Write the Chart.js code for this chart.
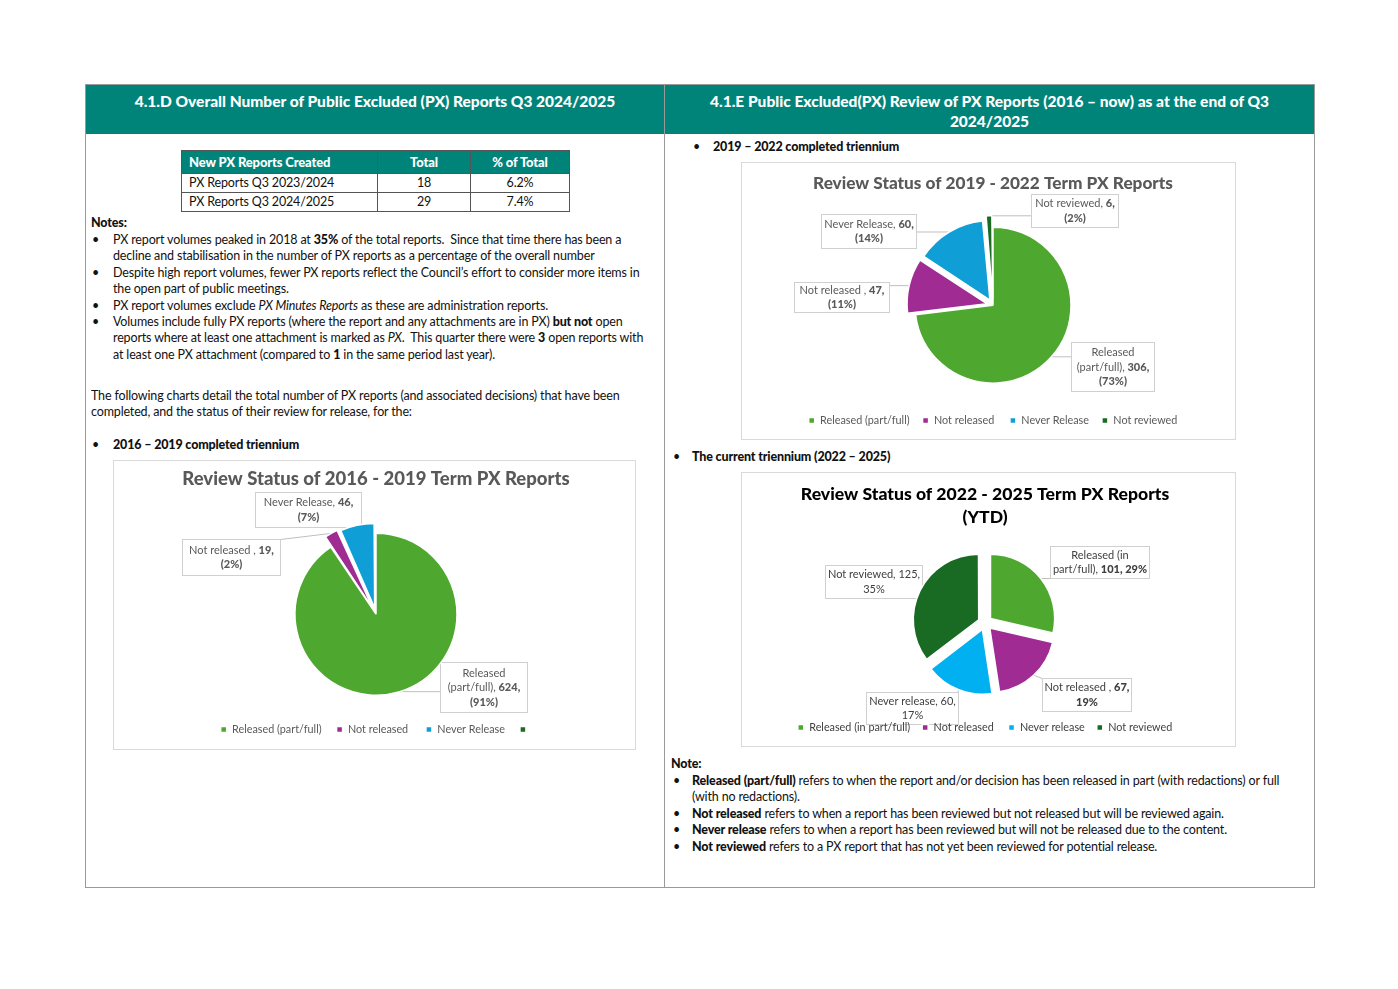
<!DOCTYPE html>
<html>
<head>
<meta charset="utf-8">
<title>PX Reports Q3 2024/2025</title>
<script src="https://cdn.jsdelivr.net/npm/chart.js@4.4.1/dist/chart.umd.min.js"></script>
<style>
  body { margin: 0; background: #fff; font-family: Lato, "Noto Sans", sans-serif; color: #111; }
  .page { position: relative; width: 1398px; height: 989px; overflow: hidden; }
  .frame { position: absolute; left: 85px; top: 84px; width: 1230px; height: 804px; box-sizing: border-box; border: 1px solid #9a9a9a; }
  .divider { position: absolute; left: 664px; top: 84px; width: 1px; height: 804px; background: #9a9a9a; }
  .head { position: absolute; top: 85px; height: 49px; background: #00847a; color: #fff; font-weight: 900;
          font-size: 15.5px; line-height: 20px; text-align: center; box-sizing: border-box; padding-top: 6px; }
  .txt { position: absolute; font-size: 12.5px; line-height: 16.4px; white-space: nowrap; letter-spacing: -0.15px; }
  .txt b { font-weight: 900; }
  .li { position: relative; padding-left: 22px; }
  .li::before { content: "\2022"; position: absolute; left: 1px; }
  .chartbox { position: absolute; box-shadow: inset 0 0 0 1px #d9d9d9; }
  #pxTable { position: absolute; left: 181px; top: 150px; border-collapse: collapse; font-size: 12.5px; letter-spacing: -0.15px; }
  #pxTable th { background: #00847a; color: #fff; font-weight: 900; font-size: 13px; height: 22px; padding: 0 7px; border: 1px solid #555; }
  #pxTable td { height: 18px; padding: 0 7px; border: 1px solid #555; line-height: 16px; }
  #pxTable .c { text-align: center; }
</style>
</head>
<body>
<div class="page">
  <div class="frame"></div>
  <div class="head" style="left:86px;width:578px;">4.1.D Overall Number of Public Excluded (PX) Reports Q3 2024/2025</div>
  <div class="head" style="left:665px;width:649px;">4.1.E Public Excluded(PX) Review of PX Reports (2016 &ndash; now) as at the end of Q3<br>2024/2025</div>
  <div class="divider"></div>

  <table id="pxTable">
    <thead>
      <tr><th style="width:181px;text-align:left;">New PX Reports Created</th><th style="width:78px;">Total</th><th style="width:84px;">% of Total</th></tr>
    </thead>
    <tbody></tbody>
  </table>

  <div class="txt" style="left:91px;top:215px;"><b>Notes:</b></div>
  <div class="txt" style="left:91px;top:232px;">
    <div class="li">PX report volumes peaked in 2018 at <b>35%</b> of the total reports.&nbsp; Since that time there has been a<br>decline and stabilisation in the number of PX reports as a percentage of the overall number</div>
    <div class="li">Despite high report volumes, fewer PX reports reflect the Council&rsquo;s effort to consider more items in<br>the open part of public meetings.</div>
    <div class="li">PX report volumes exclude <i>PX Minutes Reports</i> as these are administration reports.</div>
    <div class="li">Volumes include fully PX reports (where the report and any attachments are in PX) <b>but not</b> open<br>reports where at least one attachment is marked as <i>PX</i>.&nbsp; This quarter there were <b>3</b> open reports with<br>at least one PX attachment (compared to <b>1</b> in the same period last year).</div>
  </div>
  <div class="txt" style="left:91px;top:388px;">The following charts detail the total number of PX reports (and associated decisions) that have been<br>completed, and the status of their review for release, for the:</div>
  <div class="txt" style="left:91px;top:437px;"><div class="li"><b>2016 &ndash; 2019 completed triennium</b></div></div>

  <div class="txt" style="left:692px;top:139px;"><div class="li" style="padding-left:21px;"><b>2019 &ndash; 2022 completed triennium</b></div></div>
  <div class="txt" style="left:672px;top:449px;"><div class="li" style="padding-left:20px;"><b>The current triennium (2022 &ndash; 2025)</b></div></div>
  <div class="txt" style="left:671px;top:756px;"><b>Note:</b></div>
  <div class="txt" style="left:672px;top:773px;">
    <div class="li" style="padding-left:20px;"><b>Released (part/full)</b> refers to when the report and/or decision has been released in part (with redactions) or full<br>(with no redactions).</div>
    <div class="li" style="padding-left:20px;"><b>Not released</b> refers to when a report has been reviewed but not released but will be reviewed again.</div>
    <div class="li" style="padding-left:20px;"><b>Never release</b> refers to when a report has been reviewed but will not be released due to the content.</div>
    <div class="li" style="padding-left:20px;"><b>Not reviewed</b> refers to a PX report that has not yet been reviewed for potential release.</div>
  </div>

  <div class="chartbox" style="left:113px;top:460px;width:523px;height:290px;"><canvas id="chart1619"></canvas></div>
  <div class="chartbox" style="left:741px;top:162px;width:495px;height:278px;"><canvas id="chart1922"></canvas></div>
  <div class="chartbox" style="left:741px;top:472px;width:495px;height:275px;"><canvas id="chart2225"></canvas></div>
</div>

<script>
// table data
const tableRows = ['PX Reports Q3 2023/2024', 'PX Reports Q3 2024/2025'];
const tableTotals = [18, 29];
const tablePct = [6.2, 7.4];

// 2016 - 2019 term
const labels1619 = ['Released (part/full)', 'Not released ', 'Never Release', ''];
const values1619 = [624, 19, 46, 0];
const pct1619 = [91, 2, 7, 0];

// 2019 - 2022 term
const labels1922 = ['Released (part/full)', 'Not released ', 'Never Release', 'Not reviewed'];
const values1922 = [306, 47, 60, 6];
const pct1922 = [73, 11, 14, 2];

// 2022 - 2025 term (YTD)
const labels2225 = ['Released (in part/full)', 'Not released ', 'Never release', 'Not reviewed'];
const values2225 = [101, 67, 60, 125];
const pct2225 = [29, 19, 17, 35];

const green = '#4ea72e', purple = '#a02b93', blue = '#0f9ed5', darkGreen = '#196b24', cyan = '#00b0f0';

let tableBody = document.querySelector('#pxTable tbody');
tableRows.forEach((name, i) => {
  let row = document.createElement('tr');
  row.innerHTML = `<td>${name}</td><td class="c">${tableTotals[i]}</td><td class="c">${tablePct[i].toFixed(1)}%</td>`;
  tableBody.appendChild(row);
});

// data label boxes with leader lines, like the Excel callouts
// drawn before the legend/title so the legend text sits on top, as in Excel
const calloutPlugin = {
  id: 'callouts',
  beforeDraw(chart, args, opts) {
    const ctx = chart.ctx;
    const meta = chart.getDatasetMeta(0);
    const ds = chart.data.datasets[0];
    const size = opts.size || 11;
    const lh = opts.lineHeight || 14.5;
    (opts.items || []).forEach(item => {
      const arc = meta.data[item.index];
      const p = arc.getProps(['x', 'y', 'startAngle', 'endAngle', 'outerRadius'], true);
      const mid = (p.startAngle + p.endAngle) / 2;
      const off = (arc.options.offset || 0) / 4;
      const fix = 1 - Math.sin(Math.min(Math.PI, p.endAngle - p.startAngle));
      const r = p.outerRadius + off + off * fix;
      const ax = p.x + Math.cos(mid) * r;
      const ay = p.y + Math.sin(mid) * r;
      const bx = Math.round(p.x + item.dx) + 0.5;
      const by = Math.round(p.y + item.dy) + 0.5;
      const px = Math.min(Math.max(ax, bx), bx + item.w);
      const py = Math.min(Math.max(ay, by), by + item.h);

      ctx.save();
      ctx.strokeStyle = '#bfbfbf';
      ctx.lineWidth = 1;
      ctx.beginPath();
      ctx.moveTo(ax, ay);
      ctx.lineTo(px, py);
      ctx.stroke();
      ctx.fillStyle = '#fff';
      ctx.fillRect(bx, by, item.w, item.h);
      ctx.strokeStyle = '#d0d0d0';
      ctx.strokeRect(bx, by, item.w, item.h);

      const text = item.fmt.replace('{v}', ds.data[item.index]).replace('{p}', ds.pct[item.index]);
      const lines = text.split('\n');
      ctx.fillStyle = opts.color || '#595959';
      ctx.textBaseline = 'middle';
      ctx.textAlign = 'left';
      let y = by + (item.h - lines.length * lh) / 2 + lh / 2;
      lines.forEach(line => {
        const segs = line.split('*').map((t, k) => ({t, bold: k % 2 === 1}));
        let total = 0;
        segs.forEach(s => {
          ctx.font = `${s.bold ? '900 ' : ''}${size}px Lato`;
          s.w = ctx.measureText(s.t).width;
          total += s.w;
        });
        let x = bx + item.w / 2 - total / 2;
        segs.forEach(s => {
          ctx.font = `${s.bold ? '900 ' : ''}${size}px Lato`;
          ctx.fillText(s.t, x, y);
          x += s.w;
        });
        y += lh;
      });
      ctx.restore();
    });
  }
};

function makePie(id, labels, values, pct, colors, offsets, cfg) {
  return new Chart(document.getElementById(id), {
    type: 'pie',
    data: {
      labels: labels,
      datasets: [{
        data: values,
        pct: pct,
        backgroundColor: colors,
        borderColor: '#fff',
        borderWidth: 1.5,
        offset: offsets,
        radius: cfg.radius
      }]
    },
    options: {
      responsive: true,
      maintainAspectRatio: false,
      animation: false,
      events: [],
      layout: { padding: cfg.padding },
      plugins: {
        title: {
          display: true,
          text: cfg.title,
          color: cfg.titleColor,
          font: { family: 'Lato', size: cfg.titleSize, weight: '900', lineHeight: cfg.titleLH },
          padding: cfg.titlePad
        },
        legend: {
          position: 'bottom',
          labels: {
            usePointStyle: true,
            pointStyle: 'rect',
            boxWidth: 6,
            boxHeight: 6,
            padding: cfg.legendGap,
            color: cfg.legendColor,
            font: { family: 'Lato', size: 10.8 }
          }
        },
        tooltip: { enabled: false },
        callouts: { items: cfg.callouts, color: cfg.labelColor }
      }
    },
    plugins: [calloutPlugin]
  });
}

makePie('chart1619', labels1619, values1619, pct1619, [green, purple, blue, darkGreen], [0, 25, 25, 0], {
  radius: 81,
  padding: { left: 3, bottom: 5 },
  title: 'Review Status of 2016 - 2019 Term PX Reports',
  titleColor: '#595959', titleSize: 18.5, titleLH: 1.2, titlePad: { top: 8, bottom: 29 },
  legendColor: '#595959', labelColor: '#595959', legendGap: 15,
  callouts: [
    { index: 2, fmt: 'Never Release, *{v},*\n*({p}%)*', dx: -121, dy: -122, w: 106, h: 35 },
    { index: 1, fmt: 'Not released , *{v},*\n*({p}%)*', dx: -194, dy: -75, w: 98, h: 36 },
    { index: 0, fmt: 'Released\n(part/full), *{v},*\n*({p}%)*', dx: 64, dy: 48, w: 87, h: 50 }
  ]
});

makePie('chart1922', labels1922, values1922, pct1922, [green, purple, blue, darkGreen], [0, 24, 24, 24], {
  radius: 78,
  padding: { left: 9, bottom: 4 },
  title: 'Review Status of 2019 - 2022 Term PX Reports',
  titleColor: '#595959', titleSize: 17.2, titleLH: 1.2, titlePad: { top: 11.5, bottom: 14 },
  legendColor: '#595959', labelColor: '#595959', legendGap: 13,
  callouts: [
    { index: 3, fmt: 'Not reviewed, *{v},*\n*({p}%)*', dx: 38, dy: -111, w: 87, h: 33 },
    { index: 2, fmt: 'Never Release, *{v},*\n*({p}%)*', dx: -172, dy: -91, w: 95, h: 34 },
    { index: 1, fmt: 'Not released , *{v},*\n*({p}%)*', dx: -199, dy: -23, w: 95, h: 30 },
    { index: 0, fmt: 'Released\n(part/full), *{v},*\n*({p}%)*', dx: 78, dy: 37, w: 83, h: 49 }
  ]
});

makePie('chart2225', labels2225, values2225, pct2225, [green, purple, cyan, darkGreen], [28, 28, 28, 28], {
  radius: 64,
  padding: { right: 7, bottom: 4 },
  title: ['Review Status of 2022 - 2025 Term PX Reports', '(YTD)'],
  titleColor: '#000000', titleSize: 17.6, titleLH: 1.32, titlePad: { top: 10.5, bottom: 6.5 },
  legendColor: '#404040', labelColor: '#404040', legendGap: 12,
  callouts: [
    { index: 0, fmt: 'Released (in\npart/full), *{v}, {p}%*', dx: 65, dy: -77, w: 99, h: 32 },
    { index: 3, fmt: 'Not reviewed, {v},\n{p}%', dx: -160, dy: -58, w: 97, h: 33 },
    { index: 1, fmt: 'Not released , *{v},*\n*{p}%*', dx: 57, dy: 55, w: 89, h: 33 },
    { index: 2, fmt: 'Never release, {v},\n{p}%', dx: -119, dy: 69, w: 92, h: 32 }
  ]
});
</script>
</body>
</html>
